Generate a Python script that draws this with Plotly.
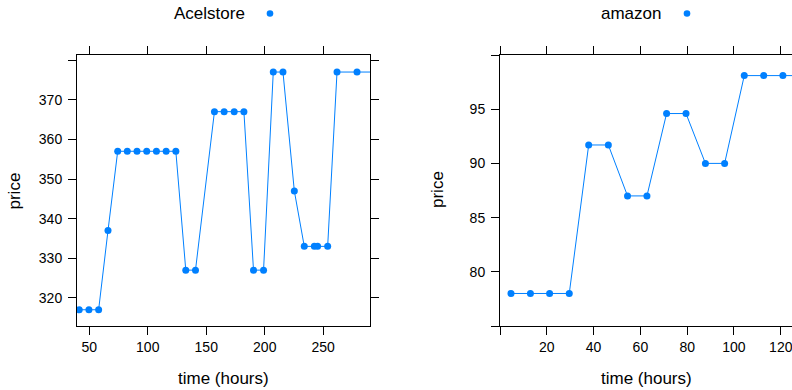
import plotly.graph_objects as go

# ---- data ----
acel_time = [41.4, 49.7, 58.0, 66.0, 74.3, 82.5, 90.8, 99.1, 107.4, 115.7, 124.0,
             132.5, 140.8, 157.0, 165.3, 173.9, 182.2, 190.4, 199.0, 207.3, 215.6,
             225.3, 233.8, 242.4, 245.2, 253.8, 261.8, 278.9, 296.0]
acel_price = [317, 317, 317, 337, 357, 357, 357, 357, 357, 357, 357,
              327, 327, 367, 367, 367, 367, 327, 327, 377, 377,
              347, 333, 333, 333, 333, 377, 377, 377]

amz_time = [4.7, 13.0, 21.2, 29.6, 37.9, 46.3, 54.5, 62.8, 71.2, 79.5, 87.8, 96.0,
            104.4, 112.7, 120.9, 129.2]
amz_price = [78.0, 78.0, 78.0, 78.0, 91.7, 91.7, 87.0, 87.0, 94.6, 94.6, 90.0, 90.0,
             98.1, 98.1, 98.1, 98.1]

acel_xticks = [50, 100, 150, 200, 250]
acel_yticks = [320, 330, 340, 350, 360, 370, 380]
acel_ylabels = ["320", "330", "340", "350", "360", "370", ""]
amz_xticks = [0, 20, 40, 60, 80, 100, 120, 140]
amz_xlabels = ["", "20", "40", "60", "80", "100", "120", "140"]
amz_yticks = [75, 80, 85, 90, 95, 100]
amz_ylabels = ["", "80", "85", "90", "95", ""]

W, H = 792, 390
BLUE = "#0080ff"
FONT = "Liberation Sans, Arial, Helvetica, sans-serif"


def px(x):
    return x / W


def py(y):
    return 1 - y / H


fig = go.Figure()
fig.add_trace(go.Scatter(x=acel_time, y=acel_price, mode="lines+markers",
                         line=dict(color=BLUE, width=1),
                         marker=dict(color=BLUE, size=7),
                         xaxis="x", yaxis="y", showlegend=False))
fig.add_trace(go.Scatter(x=amz_time, y=amz_price, mode="lines+markers",
                         line=dict(color=BLUE, width=1),
                         marker=dict(color=BLUE, size=7),
                         xaxis="x2", yaxis="y2", showlegend=False))

ax_common = dict(showline=True, linecolor="black", linewidth=1, ticks="outside",
                 ticklen=8, tickcolor="black", tickwidth=1, showgrid=False,
                 zeroline=False, ticklabeloverflow="allow",
                 tickfont=dict(family=FONT, size=14, color="black"))

yd = [py(326), py(55)]
fig.update_layout(
    width=W, height=H,
    margin=dict(l=0, r=0, t=0, b=0),
    paper_bgcolor="white", plot_bgcolor="white",
    xaxis=dict(domain=[px(77), px(370)], range=[39.5, 290], anchor="y",
               tickvals=acel_xticks, mirror="allticks", **ax_common),
    yaxis=dict(domain=yd, range=[312.9, 381.3], anchor="x",
               tickvals=acel_yticks, ticktext=acel_ylabels, mirror="allticks",
               ticklabelstandoff=3, **ax_common),
    xaxis2=dict(domain=[px(500), 1.0], range=[0, 124.8], anchor="y2",
                tickvals=amz_xticks, ticktext=amz_xlabels, mirror="allticks",
                **ax_common),
    yaxis2=dict(domain=yd, range=[75, 100], anchor="x2",
                tickvals=amz_yticks, ticktext=amz_ylabels, mirror=False,
                ticklabelstandoff=3, **ax_common),
)

ann_font = dict(family=FONT, size=17, color="black")
annotations = [
    dict(text="price", x=px(13.5), y=py(191), textangle=-90),
    dict(text="price", x=px(437), y=py(190), textangle=-90),
    dict(text="time (hours)", x=px(223), y=py(378)),
    dict(text="time (hours)", x=px(646), y=py(378)),
    dict(text="Acelstore", x=px(209), y=py(14), font=dict(family=FONT, size=17, color="black")),
    dict(text="amazon", x=px(631), y=py(14), font=dict(family=FONT, size=17, color="black")),
]
for a in annotations:
    a.setdefault("font", ann_font)
    a.update(xref="paper", yref="paper", showarrow=False, xanchor="center", yanchor="middle")
fig.update_layout(annotations=annotations)

r = 3.3
for cx, cy in [(270, 13.5), (687, 13.5)]:
    fig.add_shape(type="circle", xref="paper", yref="paper",
                  x0=px(cx - r), x1=px(cx + r), y0=py(cy + r), y1=py(cy - r),
                  fillcolor=BLUE, line=dict(width=0))

fig.write_html("out.html", config={"displayModeBar": False},
               post_script="document.body.style.margin='0';document.body.style.overflow='hidden';")
